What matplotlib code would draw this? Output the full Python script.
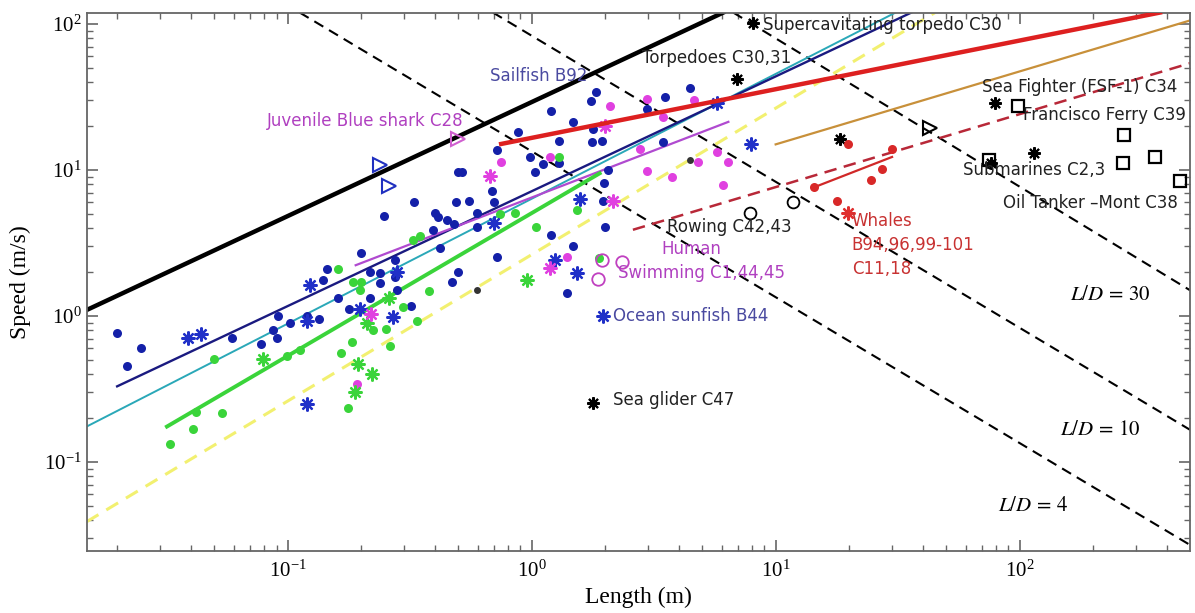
import matplotlib
matplotlib.use('Agg')
import matplotlib.pyplot as plt

plt.rcParams['font.family'] = 'Liberation Serif'
plt.rcParams['mathtext.fontset'] = 'stix'

# ---- scatter data (length m, speed m/s) ----
blue_dot_L = [0.020, 0.022, 0.025, 0.059, 0.078, 0.087, 0.090, 0.091, 0.102, 0.12, 0.135, 0.139,
              0.145, 0.161, 0.179, 0.217, 0.239, 0.28, 0.32, 0.33, 0.248, 0.40, 0.414, 0.45, 0.395,
              0.49, 0.50, 0.42, 0.20, 0.217, 0.239, 0.275, 0.47, 0.50, 1.83, 1.75, 1.2, 1.48, 0.88,
              1.79, 1.30, 1.77, 1.94, 0.72, 0.98, 1.11, 1.03, 1.29, 0.52, 0.69, 0.555, 0.70, 1.97,
              2.05, 1.96, 1.99, 1.2, 1.48, 0.595, 0.48, 0.595, 0.72, 2.98, 3.53, 4.47, 3.46, 1.39, 0.275]
blue_dot_U = [0.76, 0.455, 0.60, 0.71, 0.64, 0.80, 0.71, 1.0, 0.90, 1.0, 0.96, 1.78,
              2.1, 1.33, 1.12, 1.32, 1.68, 1.51, 1.17, 6.07, 4.84, 5.07, 4.78, 4.55, 3.88,
              6.07, 9.7, 2.91, 2.69, 2.0, 1.98, 1.86, 1.72, 2.01, 34.0, 29.9, 25.4, 21.4, 18.3,
              19.0, 15.8, 15.5, 15.7, 13.8, 12.3, 11.0, 9.7, 11.1, 9.7, 7.24, 6.14, 6.07, 8.1,
              10.0, 6.17, 4.09, 3.57, 3.04, 5.05, 4.29, 4.06, 2.52, 26.2, 31.5, 36.3, 15.6, 1.44, 2.42]

blue_ast_L = [0.039, 0.044, 0.123, 0.12, 0.12, 0.198, 0.27, 0.28, 0.70, 1.58, 1.25, 1.53, 7.9, 5.73]
blue_ast_U = [0.71, 0.75, 1.62, 0.925, 0.25, 1.11, 0.99, 2.0, 4.31, 6.35, 2.42, 1.97, 15.2, 28.6]
sunfish_L = [1.96]
sunfish_U = [1.0]

green_dot_L = [0.050, 0.042, 0.054, 0.041, 0.033, 0.099, 0.112, 0.165, 0.183, 0.176, 0.224, 0.253,
               0.263, 0.296, 0.34, 0.38, 0.161, 0.185, 0.20, 0.327, 0.35, 0.198, 1.30, 1.53, 1.04,
               0.855, 0.74, 1.89]
green_dot_U = [0.507, 0.22, 0.217, 0.168, 0.132, 0.53, 0.59, 0.556, 0.66, 0.233, 0.80, 0.82,
               0.62, 1.15, 0.925, 1.48, 2.1, 1.72, 1.72, 3.32, 3.53, 1.51, 12.3, 5.32, 4.06,
               5.1, 5.0, 2.48]
green_ast_L = [0.079, 0.189, 0.195, 0.221, 0.211, 0.26, 0.956]
green_ast_U = [0.51, 0.30, 0.47, 0.40, 0.89, 1.33, 1.77]

mag_dot_L = [0.192, 2.09, 2.98, 0.75, 1.19, 2.79, 2.98, 1.39, 4.61, 3.45, 4.82, 5.76, 6.39, 3.77, 6.1]
mag_dot_U = [0.344, 27.5, 30.8, 11.3, 12.3, 13.9, 9.9, 2.53, 30.1, 23.0, 11.3, 13.3, 11.3, 9.0, 7.9]
mag_ast_L = [0.219, 0.675, 1.99, 2.15, 1.19]
mag_ast_U = [1.04, 9.1, 19.9, 6.1, 2.12]

shark_L = [0.50]
shark_U = [16.3]
sailfish_L = [0.239, 0.26]
sailfish_U = [10.8, 7.8]
swim_L = [1.94, 2.35, 1.87]
swim_U = [2.41, 2.33, 1.80]
rowing_L = [7.85, 11.8]
rowing_U = [5.05, 6.07]
vehicle_L = [8.1, 6.96, 18.3, 79, 76, 114, 1.78]
vehicle_U = [101, 42.1, 16.4, 28.6, 11.1, 13.0, 0.252]
ship_L = [98, 75, 268, 266, 358, 454]
ship_U = [27.4, 11.7, 17.4, 11.1, 12.3, 8.4]
tri_L = [43]
tri_U = [19.3]
whale_L = [19.8, 29.9, 27.4, 24.7, 14.3, 17.9]
whale_U = [15.2, 13.9, 10.2, 8.5, 7.6, 6.1]
whale_ast_L = [19.7]
whale_ast_U = [5.05]
dark_L = [0.595, 4.45]
dark_U = [1.51, 11.7]

# ---- trend lines (end points) ----
black_L, black_U = [0.015, 6.1], [1.1, 120]
navy_L, navy_U = [0.02, 36], [0.33, 120]
cyan_L, cyan_U = [0.015, 31], [0.175, 120]
green_L, green_U = [0.032, 1.9], [0.175, 9.5]
purple_L, purple_U = [0.19, 6.4], [2.23, 21.4]
yellow_L, yellow_U = [0.015, 45], [0.039, 120]
red_L, red_U = [0.75, 376], [15.1, 120]
tan_L, tan_U = [10, 500], [15, 106]
reddash_L, reddash_U = [2.6, 500], [3.9, 54]
whalefit_L, whalefit_U = [14.3, 30], [7.6, 12.3]
ld4_L, ld4_U = [0.112, 500], [120, 0.027]
ld10_L, ld10_U = [0.694, 500], [120, 0.166]
ld30_L, ld30_U = [6.7, 500], [120, 1.5]

fig = plt.figure(figsize=(11.95, 6.13), dpi=100)
ax = fig.add_axes([0.0728, 0.1011, 0.923, 0.878])
ax.set_xscale('log')
ax.set_yscale('log')

# L/D lines
for L, U in [(ld4_L, ld4_U), (ld10_L, ld10_U), (ld30_L, ld30_U)]:
    ax.plot(L, U, color='black', lw=1.5, dashes=(5, 3.2), zorder=2)

ax.plot(black_L, black_U, color='black', lw=3.2, zorder=2)
ax.plot(yellow_L, yellow_U, color='#f2f070', lw=2.2, dashes=(4.5, 3), zorder=2)
ax.plot(cyan_L, cyan_U, color='#2aa8b8', lw=1.4, zorder=2)
ax.plot(navy_L, navy_U, color='#1a1a80', lw=1.7, zorder=2)
ax.plot(purple_L, purple_U, color='#b04ad0', lw=1.6, zorder=2)
ax.plot(green_L, green_U, color='#3ad43a', lw=2.8, zorder=2)
ax.plot(tan_L, tan_U, color='#c8903a', lw=1.6, zorder=2)
ax.plot(reddash_L, reddash_U, color='#b82838', lw=1.8, dashes=(5, 3), zorder=2)
ax.plot(whalefit_L, whalefit_U, color='#d02828', lw=1.6, zorder=2)

ast = (8, 2, 0)
ax.plot(blue_dot_L, blue_dot_U, 'o', color='#1420a8', ms=6.5, mec='none', zorder=3)
ax.plot(green_dot_L, green_dot_U, 'o', color='#3ad43a', ms=6.5, mec='none', zorder=3)
ax.plot(mag_dot_L, mag_dot_U, 'o', color='#e040e0', ms=6.5, mec='none', zorder=3)
ax.plot(dark_L, dark_U, 'o', color='#333333', ms=5, mec='none', zorder=3)
ax.plot(blue_ast_L, blue_ast_U, ls='none', marker=ast, color='#2030c8', ms=10, mew=1.6, zorder=3)
ax.plot(sunfish_L, sunfish_U, ls='none', marker=ast, color='#2030c8', ms=10, mew=1.6, zorder=3)
ax.plot(green_ast_L, green_ast_U, ls='none', marker=ast, color='#3ad43a', ms=10, mew=1.6, zorder=3)
ax.plot(mag_ast_L, mag_ast_U, ls='none', marker=ast, color='#e040e0', ms=10, mew=1.6, zorder=3)
ax.plot(vehicle_L, vehicle_U, ls='none', marker=ast, color='black', ms=9, mew=1.5, zorder=3)
ax.plot(whale_ast_L, whale_ast_U, ls='none', marker=ast, color='#e03030', ms=10, mew=1.6, zorder=3)
ax.plot(whale_L, whale_U, 'o', color='#d82828', ms=6.5, mec='none', zorder=3)
ax.plot(ship_L, ship_U, 's', mfc='none', mec='black', ms=8.5, mew=1.6, zorder=3)
ax.plot(rowing_L, rowing_U, 'o', mfc='none', mec='black', ms=8.5, mew=1.3, zorder=3)
ax.plot(swim_L, swim_U, 'o', mfc='none', mec='#c040c0', ms=9, mew=1.3, zorder=3)
ax.plot(tri_L, tri_U, '>', mfc='none', mec='black', ms=10, mew=1.5, zorder=3)
ax.plot(sailfish_L, sailfish_U, '>', mfc='none', mec='#2030c0', ms=10, mew=1.5, zorder=3)
ax.plot(shark_L, shark_U, '>', mfc='none', mec='#d060d0', ms=10, mew=1.5, zorder=3)

ax.plot(red_L, red_U, color='#dd2020', lw=3.2, zorder=4)

# labels
sans = 'DejaVu Sans'
dark = '#222222'
slate = '#4a4aa0'
pink = '#b040c0'
kw = dict(fontfamily=sans, fontsize=12, va='center', ha='left', zorder=5)
ax.text(8.88, 98.4, 'Supercavitating torpedo C30', color=dark, **kw)
ax.text(2.82, 58.5, 'Torpedoes C30,31', color=dark, **kw)
ax.text(0.675, 44.1, 'Sailfish B92', color=slate, **kw)
ax.text(0.0822, 21.7, 'Juvenile Blue shark C28', color=pink, **kw)
ax.text(69.9, 37.2, 'Sea Fighter (FSF-1) C34', color=dark, **kw)
ax.text(103, 23.8, 'Francisco Ferry C39', color=dark, **kw)
ax.text(58.6, 10.0, 'Submarines C2,3', color=dark, **kw)
ax.text(85.4, 5.92, 'Oil Tanker \u2013Mont C38', color=dark, **kw)
ax.text(3.57, 4.09, 'Rowing C42,43', color=dark, **kw)
ax.text(3.41, 2.86, 'Human', color=pink, **kw)
ax.text(2.26, 1.96, 'Swimming C1,44,45', color=pink, **kw)
ax.text(2.16, 1.0, 'Ocean sunfish B44', color=slate, **kw)
ax.text(2.15, 0.266, 'Sea glider C47', color=dark, **kw)
ax.text(20.5, 5.2, 'Whales\nB94,96,99-101\nC11,18', color='#c83232', fontfamily=sans,
        fontsize=12, va='top', ha='left', linespacing=1.45, zorder=5)

ax.text(160.8, 1.39, r'$L/D\,=\,30$', fontsize=15, va='center', ha='left')
ax.text(146, 0.1656, r'$L/D\,=\,10$', fontsize=15, va='center', ha='left')
ax.text(81.5, 0.0494, r'$L/D\,=\,4$', fontsize=15, va='center', ha='left')

ax.set_xlim(0.01505, 499)
ax.set_ylim(0.02457, 119.5)

for s in ax.spines.values():
    s.set_color('#666666')
    s.set_linewidth(1.3)
ax.tick_params(which='both', direction='in', top=True, right=True, colors='#666666',
               labelcolor='black', labelsize=15)
ax.tick_params(which='major', length=8, width=1.2)
ax.tick_params(which='minor', length=4.5, width=1.0)
ax.tick_params(axis='x', pad=7)
ax.tick_params(axis='y', pad=4)

ax.set_xlabel('Length (m)', fontsize=17, va='center')
ax.set_ylabel('Speed (m/s)', fontsize=17, va='center', ha='center')
ax.xaxis.set_label_coords(0.5, -0.087)
ax.yaxis.set_label_coords(-0.06, 0.5)

plt.savefig('out.png', dpi=100)
